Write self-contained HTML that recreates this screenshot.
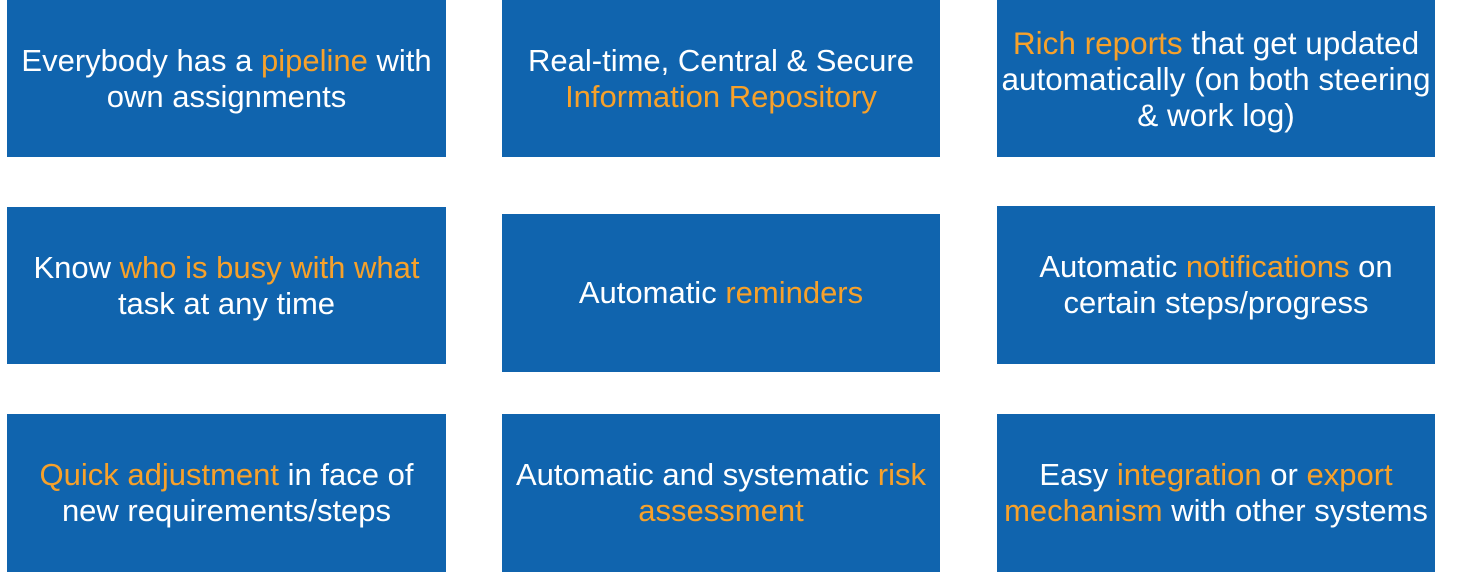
<!DOCTYPE html>
<html><head><meta charset="utf-8"><style>
body{margin:0;width:1463px;height:573px;background:#fff;position:relative;overflow:hidden;font-family:"Liberation Sans",sans-serif}
.b{position:absolute;background:#1064ae;color:#fff;display:flex;align-items:center;justify-content:center;text-align:center;font-size:31px;line-height:36px;white-space:nowrap}
.o{color:#f7a12a}
</style></head><body>
<div class="b" style="left:7px;top:0;width:439px;height:157px"><span>Everybody has a <span class="o">pipeline</span> with<br>own assignments</span></div>
<div class="b" style="left:502px;top:0;width:438px;height:157px"><span>Real-time, Central &amp; Secure<br><span class="o">Information Repository</span></span></div>
<div class="b" style="left:997px;top:0;width:438px;height:157px;font-size:31.5px"><span><span class="o">Rich reports</span> that get updated<br>automatically (on both steering<br>&amp; work log)</span></div>
<div class="b" style="left:7px;top:207px;width:439px;height:157px"><span>Know <span class="o">who is busy with what</span><br>task at any time</span></div>
<div class="b" style="left:502px;top:214px;width:438px;height:158px"><span>Automatic <span class="o">reminders</span></span></div>
<div class="b" style="left:997px;top:206px;width:438px;height:158px"><span>Automatic <span class="o">notifications</span> on<br>certain steps/progress</span></div>
<div class="b" style="left:7px;top:414px;width:439px;height:158px"><span><span class="o">Quick adjustment</span> in face of<br>new requirements/steps</span></div>
<div class="b" style="left:502px;top:414px;width:438px;height:158px"><span>Automatic and systematic <span class="o">risk</span><br><span class="o">assessment</span></span></div>
<div class="b" style="left:997px;top:414px;width:438px;height:158px;font-size:31px"><span>Easy <span class="o">integration</span> or <span class="o">export</span><br><span class="o">mechanism</span> with other systems</span></div>
</body></html>
